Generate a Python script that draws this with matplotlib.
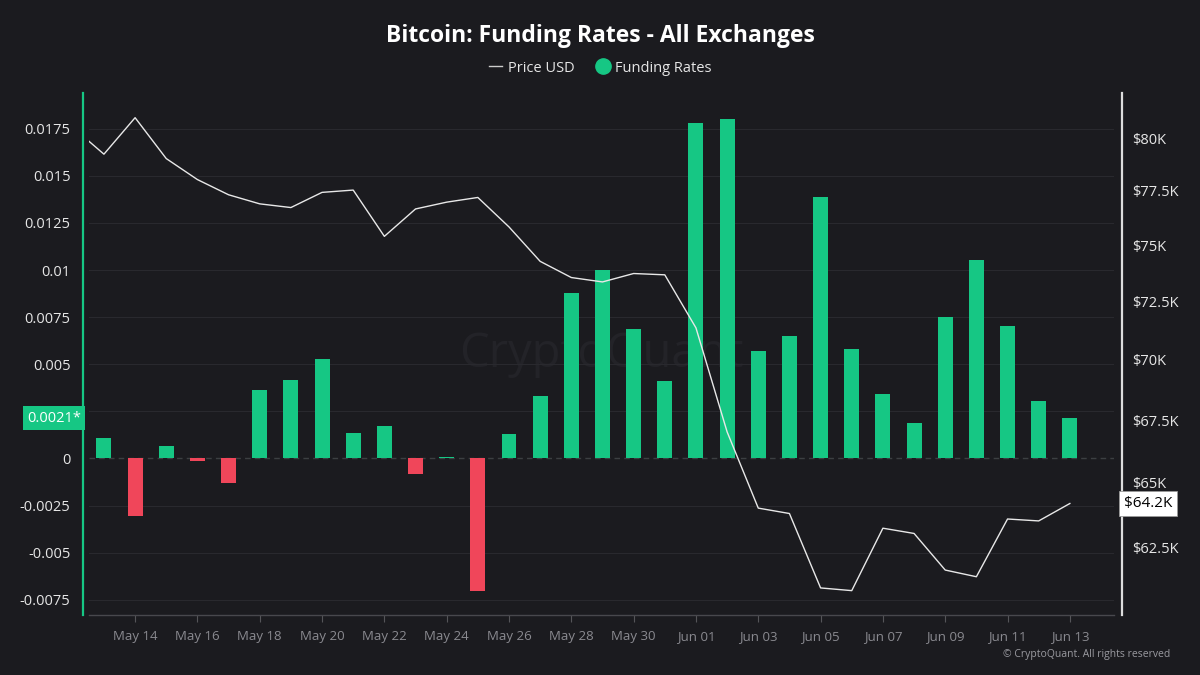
import matplotlib
matplotlib.use("Agg")
import matplotlib.pyplot as plt
import matplotlib.dates as mdates
from matplotlib.lines import Line2D
from matplotlib.ticker import FixedLocator, NullLocator
import pandas as pd

# daily funding rates, May 13 -> Jun 13
dates = pd.date_range("2024-05-13", "2024-06-13", freq="D")
funding = [
    0.00111, -0.00304, 0.00068, -0.00014, -0.00128, 0.00366, 0.00418, 0.00529,
    0.00135, 0.00172, -0.00082, 0.00010, -0.00706, 0.00131, 0.00332, 0.00878,
    0.01001, 0.00688, 0.00410, 0.01780, 0.01800, 0.00573, 0.00648, 0.01386,
    0.00582, 0.00340, 0.00189, 0.00753, 0.01053, 0.00703, 0.00307, 0.00213,
]

# price starts one day earlier (clipped at the left edge)
price_dates = pd.date_range("2024-05-12", "2024-06-13", freq="D")
price = [
    80520, 79228, 80989, 79018, 78025, 77313, 76891, 76720, 77425, 77532,
    75400, 76655, 76970, 77188, 75829, 74273, 73552, 73357, 73730, 73672,
    71354, 67020, 64010, 63802, 61004, 60905, 63240, 63040, 61665, 61417,
    63591, 63518, 64188,
]

left_ticks = [-0.0075, -0.005, -0.0025, 0, 0.005, 0.0075, 0.01, 0.0125, 0.015, 0.0175]
left_labels = ["-0.0075", "-0.005", "-0.0025", "0", "0.005", "0.0075", "0.01",
               "0.0125", "0.015", "0.0175"]
grid_levels = [-0.0075, -0.005, -0.0025, 0.0025, 0.005, 0.0075, 0.01, 0.0125, 0.015, 0.0175]
right_ticks = [62500, 65000, 67500, 70000, 72500, 75000, 77500, 80000]
right_labels = ["$62.5K", "$65K", "$67.5K", "$70K", "$72.5K", "$75K", "$77.5K", "$80K"]

BG = "#1b1b1f"
GREEN = "#16c784"
RED = "#f0465a"
GRID = "#29292e"
TXT = "#e6e6e6"
TICK_GRAY = "#8a8a90"

plt.rcParams["font.family"] = ["Open Sans", "DejaVu Sans"]

fig = plt.figure(figsize=(12, 6.75), dpi=100, facecolor=BG)
ax = fig.add_axes([89 / 1200, 1 - 615 / 675, 1025 / 1200, 522 / 675])
ax.set_facecolor(BG)

# watermark
ax.text(0.5, 0.5, "CryptoQuant", transform=ax.transAxes, ha="center", va="center",
        fontsize=34, color="#232328", zorder=0)

for g in grid_levels:
    ax.axhline(g, color=GRID, lw=0.8, zorder=1)
ax.axhline(0, color="#3c3f42", lw=1, ls=(0, (4, 3)), zorder=1)

colors = [GREEN if v >= 0 else RED for v in funding]
ax.bar(dates, funding, width=0.48, color=colors, zorder=2)

ax.set_ylim(-0.00831, 0.0194)
ax.set_xlim(dates[0] - pd.Timedelta(hours=11.5), dates[-1] + pd.Timedelta(hours=34))
ax.yaxis.set_major_locator(FixedLocator(left_ticks))
ax.set_yticklabels(left_labels)
ax.tick_params(axis="y", length=0, pad=9, labelsize=10.5, labelcolor=TXT)

ax.set_xticks(dates[1::2])
ax.xaxis.set_major_formatter(mdates.DateFormatter("%b %d"))
ax.tick_params(axis="x", length=5, width=0.8, color="#555559", pad=6,
               labelsize=9.5, labelcolor=TICK_GRAY)

for side in ["top", "right"]:
    ax.spines[side].set_visible(False)
ax.spines["left"].set_color(GREEN)
ax.spines["left"].set_linewidth(1.6)
ax.spines["left"].set_position(("outward", 4.3))
ax.spines["bottom"].set_color("#48484d")
ax.spines["bottom"].set_linewidth(1)

# last funding value tag
ax.text(-0.008, funding[-1], f"{funding[-1]:.4f}*", transform=ax.get_yaxis_transform(),
        ha="right", va="center", fontsize=10.5, color="white",
        bbox=dict(boxstyle="square,pad=0.3", fc=GREEN, ec="none"), zorder=5)

ax2 = ax.twinx()
ax2.plot(price_dates, price, color="#e8e8e8", lw=1.0, zorder=3)
ax2.set_yscale("log")
ax2.set_ylim(60017, 82203)
ax2.yaxis.set_major_locator(FixedLocator(right_ticks))
ax2.yaxis.set_minor_locator(NullLocator())
ax2.set_yticklabels(right_labels)
ax2.tick_params(axis="y", length=0, pad=7, labelsize=10.5, labelcolor=TXT)
for side in ["top", "left", "bottom"]:
    ax2.spines[side].set_visible(False)
ax2.spines["right"].set_color("#dddddd")
ax2.spines["right"].set_linewidth(1.6)
ax2.spines["right"].set_position(("outward", 5.8))

# last price tag
ax2.text(1.0095, price[-1], f"${price[-1] / 1000:.1f}K", transform=ax2.get_yaxis_transform(),
         ha="left", va="center", fontsize=11, color="black",
         bbox=dict(boxstyle="square,pad=0.3", fc="white", ec="#999999", lw=0.6), zorder=6)
ax2.set_xlim(ax.get_xlim())

fig.text(0.5, 1 - 36 / 675, "Bitcoin: Funding Rates - All Exchanges", ha="center",
         va="center", fontsize=16.5, fontweight="bold", color="white")

handles = [
    Line2D([], [], color="#cccccc", lw=1),
    Line2D([], [], color=GREEN, marker="o", ls="none", markersize=11),
]
fig.legend(handles, ["Price USD", "Funding Rates"], loc="center", ncol=2,
           bbox_to_anchor=(0.5, 1 - 68 / 675), frameon=False, fontsize=10.5,
           labelcolor=TXT, handlelength=0.9, handletextpad=0.4, columnspacing=1.5)

fig.text(1170 / 1200, 1 - 655 / 675, "© CryptoQuant. All rights reserved", ha="right",
         va="center", fontsize=7.5, color="#9a9aa0")

fig.savefig("out.png", dpi=100, facecolor=BG)
